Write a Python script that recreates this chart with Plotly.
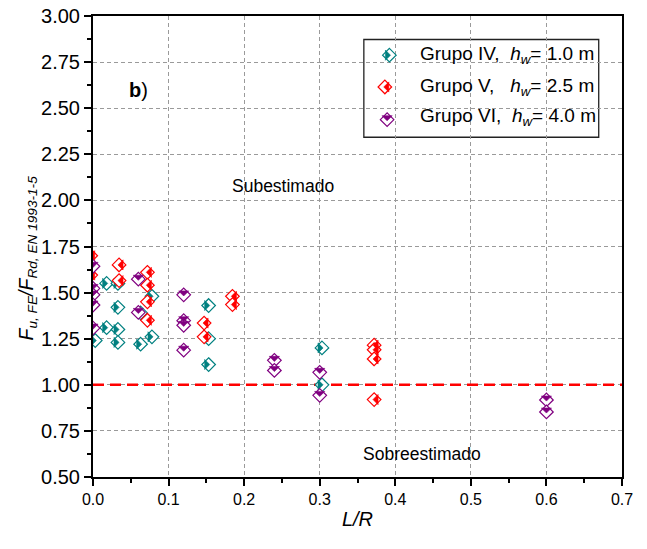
import plotly.graph_objects as go

# ---------------- data ----------------
LR_IV = [0.0, 0.015, 0.015, 0.03, 0.03, 0.03, 0.03, 0.06, 0.06, 0.075, 0.075, 0.15, 0.15, 0.15, 0.3, 0.3]
F_IV = [1.24, 1.55, 1.31, 1.55, 1.42, 1.30, 1.23, 1.39, 1.22, 1.48, 1.26, 1.43, 1.25, 1.11, 1.20, 1.00]

LR_V = [0.0, 0.0, 0.0375, 0.0375, 0.075, 0.075, 0.075, 0.075, 0.15, 0.15, 0.1875, 0.1875, 0.375, 0.375, 0.375, 0.375]
F_V = [1.70, 1.595, 1.65, 1.565, 1.61, 1.54, 1.45, 1.35, 1.335, 1.26, 1.48, 1.435, 1.215, 1.19, 1.14, 0.92]

LR_VI = [0.0, 0.0, 0.0, 0.0, 0.0, 0.06, 0.06, 0.12, 0.12, 0.12, 0.12, 0.24, 0.24, 0.3, 0.3, 0.6, 0.6]
F_VI = [1.655, 1.535, 1.50, 1.445, 1.32, 1.585, 1.405, 1.50, 1.36, 1.335, 1.20, 1.145, 1.09, 1.08, 0.955, 0.93, 0.865]

REF_X = [0.0, 0.7]
REF_Y = [1.0, 1.0]

X_TICKS = [0.0, 0.1, 0.2, 0.3, 0.4, 0.5, 0.6, 0.7]
Y_TICKS = [0.50, 0.75, 1.00, 1.25, 1.50, 1.75, 2.00, 2.25, 2.50, 2.75, 3.00]

NAMES = ["Grupo IV,  <i>h</i><sub><i>w</i></sub>= 1.0 m",
         "Grupo V,   <i>h</i><sub><i>w</i></sub>= 2.5 m",
         "Grupo VI,  <i>h</i><sub><i>w</i></sub>= 4.0 m"]
COLORS = ["#008080", "#ff0000", "#800080"]

Y_TITLE = "<i>F</i><sub><i>u, FE</i></sub><i>/F</i><sub><i>Rd, EN 1993-1-5</i></sub>"
X_TITLE = "<i>L/R</i>"

# ---------------- styling ----------------
FONT = "Liberation Sans, Arial, sans-serif"
TRI_SIZE = 8.0
R_T = TRI_SIZE / 2
HALF = (1.6 * R_T + 0.8 * R_T) * 0.70711      # half-diagonal of the rotated corner triangle
SHIFT = (0.4 * R_T) * 2 * 0.70711              # offset of hypotenuse midpoint from the point
DIAM_SIZE = 2 * HALF / 1.3

# half-filled diamond: (triangle symbol, triangle angle, diamond angle giving the same shift)
HALF_STYLE = {
    "right": ("triangle-ne", 45, 270),
    "left": ("triangle-sw", 45, 90),
    "bottom": ("triangle-se", 45, 0),
}
GROUP_HALF = ["right", "left", "bottom"]


def half_diamond(x, y, color, half, xaxis="x", yaxis="y"):
    tri, tri_ang, dia_ang = HALF_STYLE[half]
    outline = go.Scatter(
        x=x, y=y, mode="markers", xaxis=xaxis, yaxis=yaxis, showlegend=False, hoverinfo="skip",
        marker=dict(symbol="diamond", size=DIAM_SIZE, color="white", angle=dia_ang,
                    standoff=SHIFT, line=dict(color=color, width=1.2)))
    fill = go.Scatter(
        x=x, y=y, mode="markers", xaxis=xaxis, yaxis=yaxis, showlegend=False, hoverinfo="skip",
        marker=dict(symbol=tri, size=TRI_SIZE, color=color, angle=tri_ang,
                    line=dict(color=color, width=0.6)))
    return [outline, fill]


fig = go.Figure()

fig.add_trace(go.Scatter(x=REF_X, y=REF_Y, mode="lines", showlegend=False, hoverinfo="skip",
                         line=dict(color="#ff0000", width=2.6, dash="11px,6px")))

for xs, ys, c, h in zip([LR_IV, LR_V, LR_VI], [F_IV, F_V, F_VI], COLORS, GROUP_HALF):
    for tr in half_diamond(xs, ys, c, h):
        fig.add_trace(tr)

# ---------------- manual legend ----------------
LEG_X0, LEG_X1, LEG_Y0, LEG_Y1 = 0.512, 0.956, 0.737, 0.949
LEG_ROWS = [0.915, 0.846, 0.780]
LEG_SYM_X = 0.556
LEG_TXT_X = 0.614

fig.add_shape(type="rect", xref="paper", yref="paper", x0=LEG_X0, x1=LEG_X1, y0=LEG_Y0, y1=LEG_Y1,
              line=dict(color="#222222", width=1.3), fillcolor="white", layer="between")
for row, c, h, name in zip(LEG_ROWS, COLORS, GROUP_HALF, NAMES):
    for tr in half_diamond([LEG_SYM_X], [row], c, h, xaxis="x2", yaxis="y2"):
        fig.add_trace(tr)
    fig.add_annotation(x=LEG_TXT_X, y=row, xref="paper", yref="paper", text=name, showarrow=False,
                       xanchor="left", yanchor="middle", font=dict(family=FONT, size=19, color="black"))

# ---------------- text labels ----------------
fig.add_annotation(x=0.06, y=2.60, xref="x", yref="y", text="<b>b</b>)", showarrow=False,
                   font=dict(family=FONT, size=20, color="black"))
fig.add_annotation(x=0.251, y=2.08, xref="x", yref="y", text="Subestimado", showarrow=False,
                   font=dict(family=FONT, size=17.5, color="black"))
fig.add_annotation(x=0.436, y=0.625, xref="x", yref="y", text="Sobreestimado", showarrow=False,
                   font=dict(family=FONT, size=17.5, color="black"))
# y axis title (placed as a rotated annotation to match the reference position)
fig.add_annotation(x=-0.123, y=0.476, xref="paper", yref="paper", text=Y_TITLE, showarrow=False,
                   textangle=-90, xanchor="center", yanchor="middle",
                   font=dict(family=FONT, size=19.5, color="black"))

axis_common = dict(showline=True, linecolor="black", linewidth=2, mirror=True, automargin=False,
                   ticks="outside", ticklen=7, tickwidth=1.5, tickcolor="black",
                   showgrid=True, gridcolor="#9a9a9a", gridwidth=1, griddash="4px,3px",
                   zeroline=False, ticklabeloverflow="allow")

fig.update_layout(
    width=647, height=549,
    margin=dict(l=93, r=25, t=16, b=72),
    paper_bgcolor="white", plot_bgcolor="white",
    font=dict(family=FONT, color="black"),
    showlegend=False,
    xaxis=dict(range=[0, 0.7], tickvals=X_TICKS, tickformat=".1f",
               tickfont=dict(family=FONT, size=16, color="black"),
               minor=dict(dtick=0.05, ticks="outside", ticklen=4, tickwidth=1.5, tickcolor="black", showgrid=False),
               title=dict(text=X_TITLE, font=dict(family=FONT, size=20), standoff=5),
               **axis_common),
    yaxis=dict(range=[0.5, 3.0], tickvals=Y_TICKS, tickformat=".2f",
               tickfont=dict(family=FONT, size=20, color="black"),
               minor=dict(dtick=0.125, ticks="outside", ticklen=4, tickwidth=1.5, tickcolor="black", showgrid=False),
               **axis_common),
    xaxis2=dict(overlaying="x", range=[0, 1], visible=False, fixedrange=True),
    yaxis2=dict(overlaying="y", range=[0, 1], visible=False, fixedrange=True),
)

# remove the browser's default 8px body margin so the figure fills the window exactly
fig.write_html("out.html", config={"displayModeBar": False},
               post_script="document.body.style.margin='0';document.body.style.overflow='hidden';")
